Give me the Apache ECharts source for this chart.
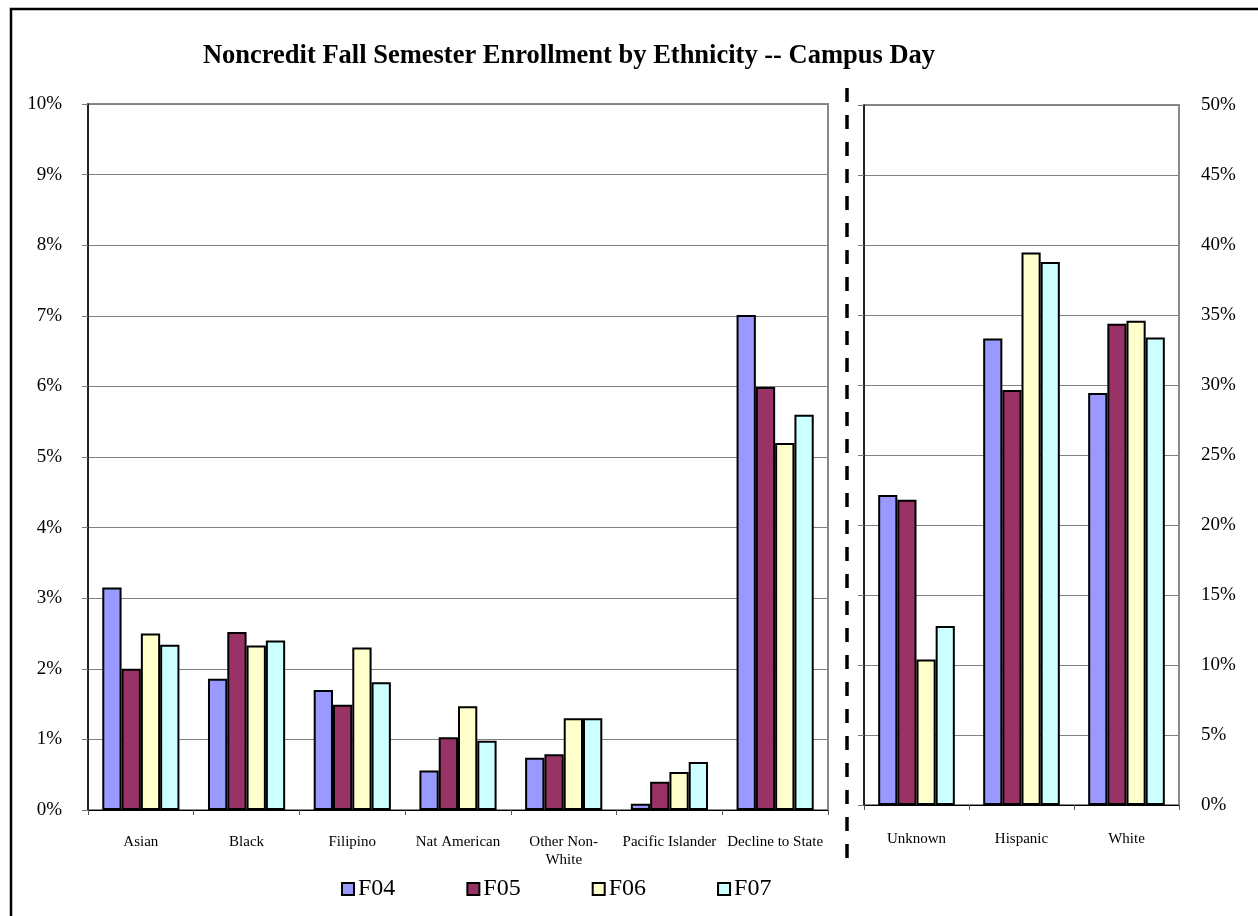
<!DOCTYPE html>
<html>
<head>
<meta charset="utf-8">
<script src="https://cdn.jsdelivr.net/npm/echarts@6/dist/echarts.min.js"></script>
<style>
html,body{margin:0;padding:0;background:#fff;}
#chart{width:1258px;height:916px;}
</style>
</head>
<body>
<div id="chart"></div>
<script>
// Categories
const leftCategories = ['Asian', 'Black', 'Filipino', 'Nat American', 'Other Non-\nWhite', 'Pacific Islander', 'Decline to State'];
const rightCategories = ['Unknown', 'Hispanic', 'White'];
const seriesNames = ['F04', 'F05', 'F06', 'F07'];

// Values (percent) — left panel (0–10%)
const leftF04 = [3.15, 1.86, 1.70, 0.56, 0.74, 0.09, 7.01];
const leftF05 = [2.00, 2.52, 1.49, 1.03, 0.79, 0.40, 5.99];
const leftF06 = [2.50, 2.33, 2.30, 1.47, 1.30, 0.54, 5.20];
const leftF07 = [2.34, 2.40, 1.81, 0.98, 1.30, 0.68, 5.60];

// Values (percent) — right panel (0–50%)
const rightF04 = [22.15, 33.32, 29.42];
const rightF05 = [21.80, 29.64, 34.37];
const rightF06 = [10.39, 39.46, 34.59];
const rightF07 = [12.78, 38.79, 33.40];

const leftTicks = { min: 0, max: 10, interval: 1 };
const rightTicks = { min: 0, max: 50, interval: 5 };

const colors = ['#9999FF', '#993366', '#FFFFCC', '#CCFFFF'];
const leftData = [leftF04, leftF05, leftF06, leftF07];
const rightData = [rightF04, rightF05, rightF06, rightF07];

const FONT = 'Liberation Serif';
const chart = echarts.init(document.getElementById('chart'));

function xAxisCfg(gi, cats, margin) {
  return {
    type: 'category', gridIndex: gi, data: cats,
    axisLine: { show: true, lineStyle: { color: '#000', width: 1 } },
    axisTick: { show: true, length: 5, lineStyle: { color: '#555' } },
    axisLabel: { interval: 0, margin: margin, fontFamily: FONT, fontSize: 15, color: '#000', lineHeight: 18 },
    splitLine: { show: false }
  };
}

const series = [];
seriesNames.forEach((n, i) => {
  const common = {
    name: n, type: 'bar', barGap: '0%', barCategoryGap: '27%',
    itemStyle: { color: colors[i], borderColor: '#000', borderWidth: 2 },
    emphasis: { disabled: true }, animation: false
  };
  series.push(Object.assign({}, common, { xAxisIndex: 0, yAxisIndex: 0, data: leftData[i] }));
  series.push(Object.assign({}, common, { xAxisIndex: 1, yAxisIndex: 1, data: rightData[i] }));
});

const option = {
  animation: false,
  title: {
    text: 'Noncredit Fall Semester Enrollment by Ethnicity -- Campus Day',
    left: 564, top: 38, textAlign: 'center',
    textStyle: { fontFamily: FONT, fontWeight: 'bold', fontSize: 26.5, color: '#000' }
  },
  legend: {
    data: seriesNames, top: 872, left: 336,
    icon: 'rect', itemWidth: 12, itemHeight: 12, itemGap: 71,
    textStyle: { fontFamily: FONT, fontSize: 24, color: '#000', padding: [0, 0, 0, -1] },
    selectedMode: false
  },
  grid: [
    { left: 88, top: 104, width: 740, height: 706, show: true, borderColor: '#888', borderWidth: 2, backgroundColor: 'transparent' },
    { left: 864, top: 105, width: 315, height: 700, show: true, borderColor: '#888', borderWidth: 2, backgroundColor: 'transparent' }
  ],
  xAxis: [xAxisCfg(0, leftCategories, 23), xAxisCfg(1, rightCategories, 25)],
  yAxis: [
    {
      type: 'value', gridIndex: 0, min: leftTicks.min, max: leftTicks.max, interval: leftTicks.interval,
      axisLine: { show: true, lineStyle: { color: '#000', width: 1.5 } },
      axisTick: { show: true, length: 6, lineStyle: { color: '#777' } },
      axisLabel: { formatter: '{value}%', margin: 26, fontFamily: FONT, fontSize: 19, color: '#000' },
      splitLine: { show: true, lineStyle: { color: '#808080', width: 1 } }
    },
    {
      type: 'value', gridIndex: 1, position: 'left', min: rightTicks.min, max: rightTicks.max, interval: rightTicks.interval,
      axisLine: { show: true, lineStyle: { color: '#000', width: 1.5 } },
      axisTick: { show: true, length: 6, lineStyle: { color: '#777' } },
      axisLabel: { show: false },
      splitLine: { show: true, lineStyle: { color: '#808080', width: 1 } }
    },
    {
      type: 'value', gridIndex: 1, position: 'right', min: rightTicks.min, max: rightTicks.max, interval: rightTicks.interval,
      axisLine: { show: false }, axisTick: { show: false },
      axisLabel: { formatter: '{value}%', margin: 22, fontFamily: FONT, fontSize: 19, color: '#000' },
      splitLine: { show: false }
    }
  ],
  series: series,
  graphic: [
    { type: 'rect', shape: { x: 11, y: 9, width: 1400, height: 1100 }, style: { fill: 'none', stroke: '#000', lineWidth: 2.5 }, silent: true },
    { type: 'line', shape: { x1: 847, y1: 88, x2: 847, y2: 858 }, style: { stroke: '#000', lineWidth: 3.5, lineDash: [14, 13] }, silent: true }
  ]
};
chart.setOption(option);
</script>
</body>
</html>
